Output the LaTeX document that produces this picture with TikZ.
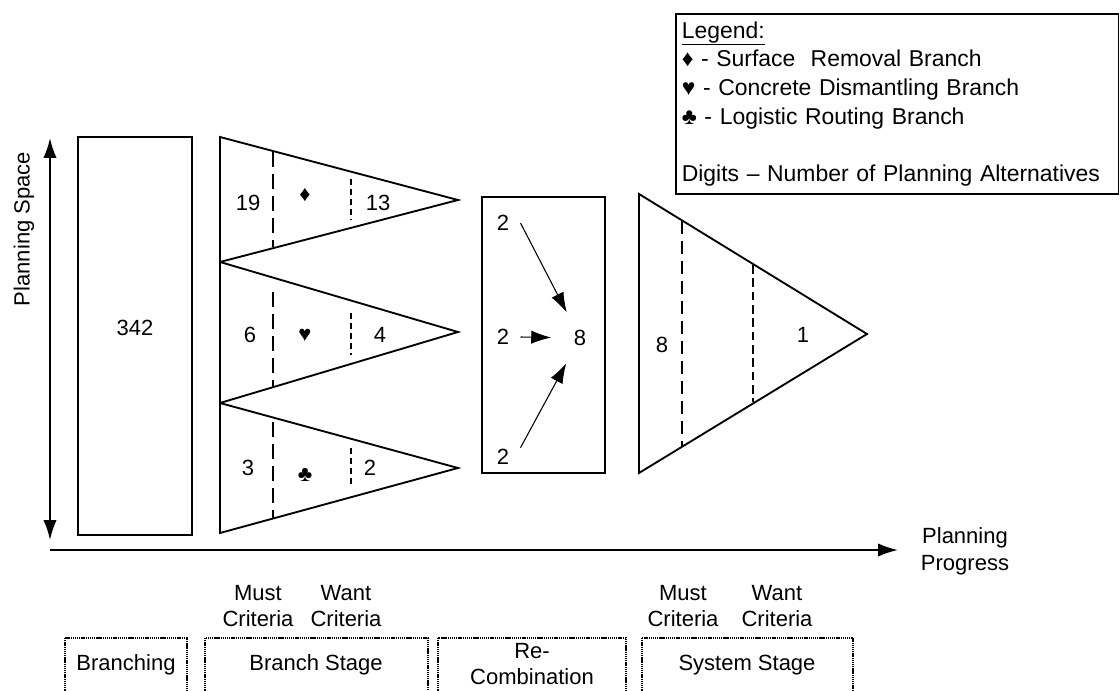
\documentclass[tikz,border=0pt]{standalone}
\usepackage{fontspec}
\setmainfont{Liberation Sans}
\usetikzlibrary{arrows.meta,positioning}
\tikzset{>={Latex[length=15pt,width=10pt]}}

\begin{document}
\begin{tikzpicture}[x=0.75pt,y=-0.75pt,font=\fontsize{16.5}{20}\selectfont]

\tikzstyle{edge}=[line width=1.4pt]
\tikzstyle{must}=[line width=1.4pt,dash pattern=on 11pt off 5.5pt]
\tikzstyle{want}=[line width=1.4pt,dash pattern=on 4.5pt off 3pt]
\tikzstyle{sysmust}=[line width=1.4pt,dash pattern=on 10pt off 5pt]
\tikzstyle{syswant}=[line width=1.4pt,dash pattern=on 6.5pt off 3.5pt]
\tikzstyle{stagebox}=[line width=1.5pt,dash pattern=on 1pt off 0.6pt]
\tikzstyle{thinarrow}=[line width=0.8pt,->]

\useasboundingbox (0,0) rectangle (1120,691);
\clip (0,0) rectangle (1120,691);

% legend
\node[draw,line width=1.2pt,anchor=north west,text width=323pt,
  inner xsep=4.5pt,minimum height=135pt,align=left,
  font=\fontsize{17.2}{21.5}\selectfont] (legend) at (675,13)
 {\underline{Legend:}\\
  ♦ - Surface~ Removal Branch\\
  ♥ - Concrete Dismantling Branch\\
  ♣ - Logistic Routing Branch\\[21.5pt]
  Digits – Number of Planning Alternatives};

% axes
\coordinate (ps top) at (50,138);
\coordinate (ps bottom) at (50,540);
\coordinate (pp start) at (50,550);
\coordinate (pp end) at (898,550);
\draw[edge,<->] (ps bottom) -- (ps top);
\draw[edge,->] (pp start) -- (pp end);
\node[rotate=90] (space) at (24,229) {Planning Space};
\node[align=center] (progress) at (965,551) {Planning\\Progress};

% branching
\draw[edge] (78,137) rectangle (192,535);
\node (all) at (135,328) {342};

% branch stage
\foreach \t/\a/\b in {137/200/262, 262/332/403, 403/468/533}
  \draw[edge] (220,\t) -- (458,\a) -- (220,\b) -- cycle;
\draw[must] (273,152) -- (273,247);
\draw[must] (273,292) -- (273,387);
\draw[must] (273,422) -- (273,518);
\draw[want] (351,179) -- (351,220);
\draw[want] (351,313) -- (351,355);
\draw[want] (351,448) -- (351,488);
\node (d must) at (248,203) {19};
\node (d sym) at (305,195) {♦};
\node (d want) at (378,203) {13};
\node (h must) at (250,335) {6};
\node (h sym) at (305,335) {♥};
\node (h want) at (380,335) {4};
\node (c must) at (248,468) {3};
\node (c sym) at (305,475) {♣};
\node (c want) at (370,468) {2};

% re-combination
\draw[edge] (482,197) rectangle (605,473);
\node (r1) at (503,223) {2};
\node (r2) at (503,337) {2};
\node (r3) at (503,457) {2};
\node[circle,minimum size=42.75pt,inner sep=0pt] (total) at (580,338) {8};
\draw[thinarrow] ([xshift=5pt]r1.east) -- (total);
\draw[thinarrow] ([xshift=5pt]r2.east) -- (total);
\draw[thinarrow] ([shift={(5pt,7pt)}]r3.east) -- (total);

% system stage
\draw[edge] (639,194) -- (867,334) -- (639,473) -- cycle;
\draw[sysmust] (682,221) -- (682,447);
\draw[syswant] (753,265) -- (753,402);
\node (s must) at (662,345) {8};
\node (s want) at (803,335) {1};

% criteria
\node[align=center] (bm) at (258,606) {Must\\Criteria};
\node[align=center] (bw) at (346,606) {Want\\Criteria};
\node[align=center] (sm) at (683,606) {Must\\Criteria};
\node[align=center] (sw) at (777,606) {Want\\Criteria};

% stages
\draw[stagebox] (65,638) rectangle (187,720);
\draw[stagebox] (205,638) rectangle (428,720);
\draw[stagebox] (438,638) rectangle (626,720);
\draw[stagebox] (642,638) rectangle (853,720);
\node (branching) at (126,665) {Branching};
\node (branch stage) at (316,665) {Branch Stage};
\node[align=center] (recombination) at (532,664) {Re-\\Combination};
\node (system stage) at (747,665) {System Stage};
\end{tikzpicture}
\end{document}
